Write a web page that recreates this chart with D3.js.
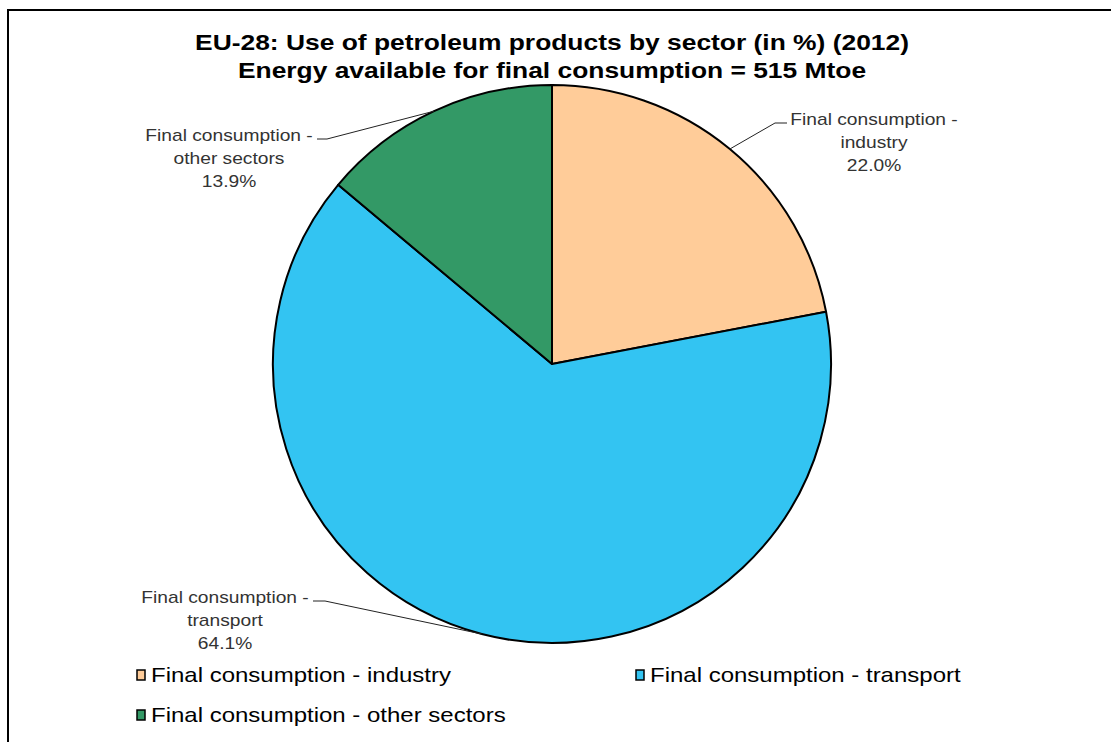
<!DOCTYPE html>
<html lang="en">
<head>
<meta charset="UTF-8">
<title>EU-28 petroleum products by sector</title>
<script src="https://d3js.org/d3.v7.min.js"></script>
<style>
  body { margin: 0; background: #fff; }
  text { font-family: "Liberation Sans", Arial, sans-serif; }
</style>
</head>
<body>
<script>
// data
var sectors = ["Final consumption - industry", "Final consumption - transport", "Final consumption - other sectors"];
var shares = [22.0, 64.1, 13.9];
var labelLines = [["Final consumption  -", "industry"], ["Final consumption  -", "transport"], ["Final consumption  -", "other sectors"]];
var colors = ["#FFCC99", "#33C4F2", "#339966"];

// label placement: text centre, first line y, leader elbow x and end x
var labelPos = [
  {x: 874, y: 119, ex: 775, hx: 787},
  {x: 225, y: 597, ex: 325, hx: 313},
  {x: 229, y: 135, ex: 327, hx: 317}
];

var W = 1111, H = 742;
var cx = 552, cy = 364, r = 279;
var sx = 1.2; // source image is stretched horizontally

var svg = d3.select("body").append("svg")
    .attr("width", W)
    .attr("height", H);

svg.append("rect")
    .attr("x", 8).attr("y", 10)
    .attr("width", W + 20).attr("height", H + 20)
    .attr("fill", "#fff")
    .attr("stroke", "#000")
    .attr("stroke-width", 2);

function stretchedText(x, y) {
  return svg.append("text")
    .attr("transform", "translate(" + x + "," + y + ") scale(" + sx + ",1)");
}

// title
var title = stretchedText(cx, 0)
    .attr("text-anchor", "middle")
    .style("font-weight", "bold")
    .style("font-size", "22px")
    .attr("fill", "#000");
title.append("tspan").attr("x", 0).attr("y", 50).text("EU-28: Use of petroleum products by sector (in %) (2012)");
title.append("tspan").attr("x", 0).attr("y", 78).text("Energy available for final consumption = 515 Mtoe");

var data = sectors.map(function(s, i) { return {name: s, value: shares[i], i: i}; });

var pie = d3.pie().sort(null).value(function(d) { return d.value; });
var arc = d3.arc().innerRadius(0).outerRadius(r);

var g = svg.append("g").attr("transform", "translate(" + cx + "," + cy + ")");

var arcs = pie(data);

g.selectAll("path.slice")
  .data(arcs)
  .enter().append("path")
    .attr("class", "slice")
    .attr("d", arc)
    .attr("fill", function(d) { return colors[d.data.i]; })
    .attr("stroke", "#000")
    .attr("stroke-width", 2)
    .attr("stroke-linejoin", "round");

// leader lines + data labels
arcs.forEach(function(d) {
  var i = d.data.i;
  var a = (d.startAngle + d.endAngle) / 2;
  var px = cx + r * Math.sin(a), py = cy - r * Math.cos(a);
  var lp = labelPos[i];
  var ly = lp.y + 4;
  svg.append("polyline")
    .attr("points", [[px, py], [lp.ex, ly], [lp.hx, ly]].map(function(p) { return p.join(","); }).join(" "))
    .attr("fill", "none")
    .attr("stroke", "#222")
    .attr("stroke-width", 1);

  var t = stretchedText(lp.x, lp.y)
    .attr("text-anchor", "middle")
    .attr("fill", "#333")
    .style("font-size", "16px");
  var lines = labelLines[i].concat([d3.format(".1f")(shares[i]) + "%"]);
  lines.forEach(function(l, k) {
    t.append("tspan").attr("x", 0).attr("y", 6 + k * 23).text(l);
  });
});

// legend
var legendPos = [[137, 675], [636, 675], [137, 715]];
var leg = svg.selectAll("g.leg")
  .data(data)
  .enter().append("g")
    .attr("class", "leg")
    .attr("transform", function(d) { return "translate(" + legendPos[d.i][0] + "," + legendPos[d.i][1] + ")"; });
leg.append("rect")
    .attr("x", 0).attr("y", -5)
    .attr("width", 8).attr("height", 10)
    .attr("fill", function(d) { return colors[d.i]; })
    .attr("stroke", "#000")
    .attr("stroke-width", 1.5);
leg.append("text")
    .attr("transform", "translate(14,7) scale(" + sx + ",1)")
    .style("font-size", "20px")
    .attr("fill", "#000")
    .text(function(d) { return d.name; });
</script>
</body>
</html>
